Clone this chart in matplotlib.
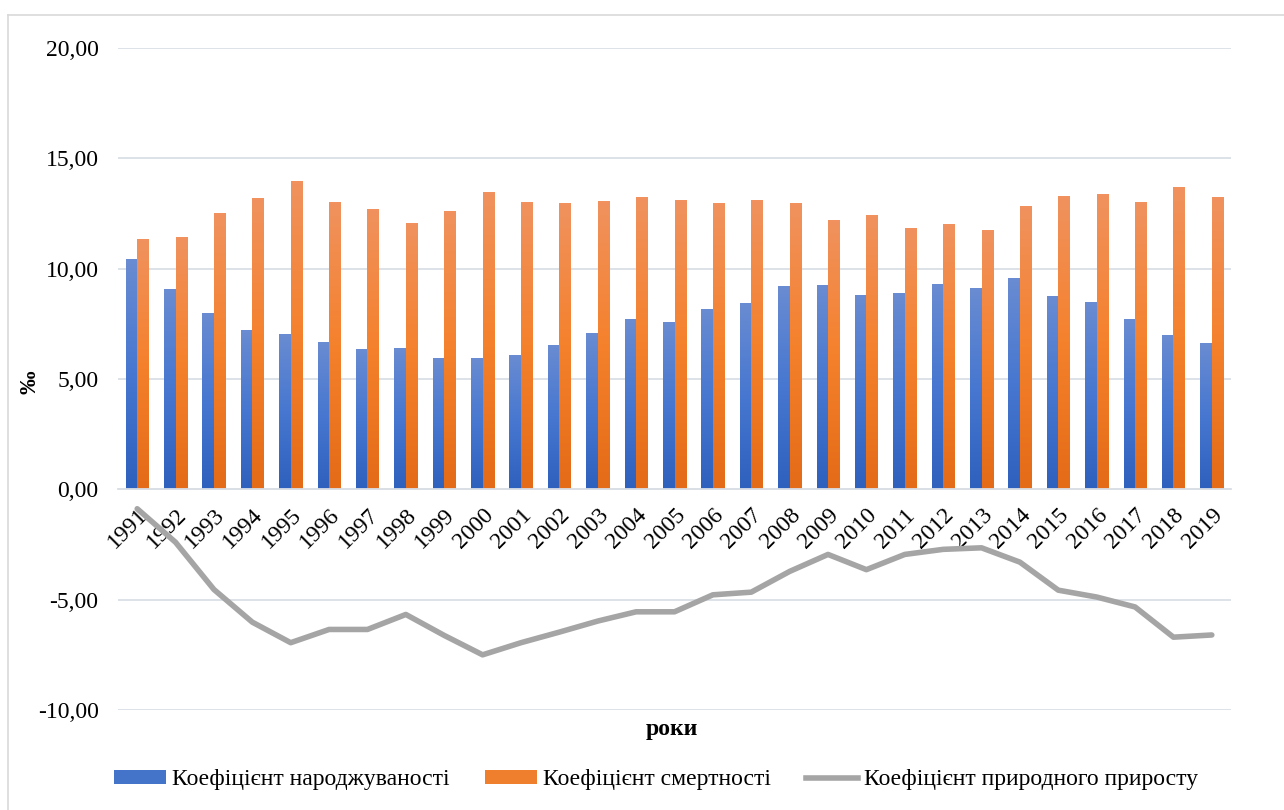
import numpy as np
import matplotlib
matplotlib.use("Agg")
import matplotlib.pyplot as plt
from matplotlib.colors import LinearSegmentedColormap
from matplotlib.patches import Patch
from matplotlib.lines import Line2D
from matplotlib.ticker import FuncFormatter, MultipleLocator

plt.rcParams["font.family"] = ["Liberation Serif", "DejaVu Serif"]

# Data
years = [str(y) for y in range(1991, 2020)]
birth_rate = [10.43, 9.07, 7.98, 7.21, 7.03, 6.67, 6.35, 6.39, 5.94, 5.94,
              6.08, 6.53, 7.07, 7.70, 7.57, 8.16, 8.44, 9.21, 9.25, 8.80,
              8.89, 9.30, 9.12, 9.57, 8.75, 8.48, 7.70, 6.98, 6.62]
death_rate = [11.33, 11.42, 12.51, 13.19, 13.96, 13.01, 12.70, 12.06, 12.61, 13.47,
              13.01, 12.97, 13.06, 13.24, 13.11, 12.97, 13.11, 12.97, 12.20, 12.43,
              11.84, 12.02, 11.75, 12.84, 13.29, 13.38, 13.01, 13.70, 13.24]
natural_growth = [-0.88, -2.40, -4.54, -6.02, -6.95, -6.35, -6.35, -5.67, -6.62, -7.50,
                  -6.95, -6.47, -5.97, -5.55, -5.55, -4.78, -4.66, -3.72, -2.95, -3.64,
                  -2.95, -2.72, -2.65, -3.30, -4.57, -4.88, -5.33, -6.70, -6.60]

label_birth = "Коефіцієнт народжуваності"
label_death = "Коефіцієнт смертності"
label_growth = "Коефіцієнт природного приросту"

# Style
grid_color = "#DADFE6"
line_color = "#A5A5A5"
blue_cmap = LinearSegmentedColormap.from_list("blue", ["#2E60BD", "#4777D0", "#6A8CD2"])
orange_cmap = LinearSegmentedColormap.from_list("orange", ["#E46B17", "#F5812C", "#F0925F"])
bar_w = 0.3
fs = 17

fig = plt.figure(figsize=(12.84, 8.10), dpi=100)
ax = fig.add_axes([118 / 1284, 1 - 710 / 810, (1231 - 118) / 1284, (710 - 48) / 810])

x = np.arange(len(years))
bars_b = ax.bar(x - bar_w / 2, birth_rate, bar_w, color="none", zorder=2)
bars_d = ax.bar(x + bar_w / 2, death_rate, bar_w, color="none", zorder=2)

# vertical gradient fill for each bar
grad = np.linspace(0, 1, 256).reshape(-1, 1)
for bars, cmap in [(bars_b, blue_cmap), (bars_d, orange_cmap)]:
    for b in bars:
        bx, by = b.get_xy()
        im = ax.imshow(grad, extent=[bx, bx + b.get_width(), by, by + b.get_height()],
                       aspect="auto", origin="lower", cmap=cmap, zorder=2)
        im.set_clip_path(b)

ax.plot(x, natural_growth, color=line_color, lw=4, solid_capstyle="round",
        solid_joinstyle="round", zorder=4)

ax.set_xlim(-0.5, len(years) - 0.5)
ax.set_ylim(-10, 20)
ax.yaxis.set_major_locator(MultipleLocator(5))
ax.yaxis.set_major_formatter(FuncFormatter(lambda v, p: f"{v:.2f}".replace(".", ",")))
ax.grid(axis="y", color=grid_color, lw=1.3)
ax.set_axisbelow(True)

for s in ["top", "right", "left"]:
    ax.spines[s].set_visible(False)
ax.spines["bottom"].set_position(("data", 0))
ax.spines["bottom"].set_color(grid_color)
ax.spines["bottom"].set_linewidth(1.3)

ax.set_xticks(x)
ax.set_xticklabels(years, rotation=45, ha="right", va="top", rotation_mode="anchor")
ax.tick_params(axis="both", length=0, labelsize=fs)
ax.tick_params(axis="y", pad=14)
ax.tick_params(axis="x", pad=11)

fig.text(30 / 1284, 1 - 382 / 810, "‰", rotation=90, fontsize=fs, fontweight="bold",
         ha="center", va="center")
fig.text(672 / 1284, 1 - 730 / 810, "роки", fontsize=fs, fontweight="bold",
         ha="center", va="center")

handles = [Patch(facecolor="#4474C9", edgecolor="none"),
           Patch(facecolor="#F07F2D", edgecolor="none"),
           Line2D([0], [0], color=line_color, lw=4)]
fig.legend(handles, [label_birth, label_death, label_growth], loc="center",
           bbox_to_anchor=(656 / 1284, 1 - 780 / 810), ncol=3, frameon=False,
           fontsize=fs, handlelength=2.2, handleheight=0.55, handletextpad=0.25,
           columnspacing=1.5)

# chart area border (top and left visible)
fig.add_artist(Line2D([8 / 1284, 8 / 1284], [0, 1 - 15 / 810], color="#D9D9D9", lw=1.2))
fig.add_artist(Line2D([8 / 1284, 1], [1 - 15 / 810, 1 - 15 / 810], color="#D9D9D9", lw=1.2))

fig.savefig("out.png", dpi=100)
